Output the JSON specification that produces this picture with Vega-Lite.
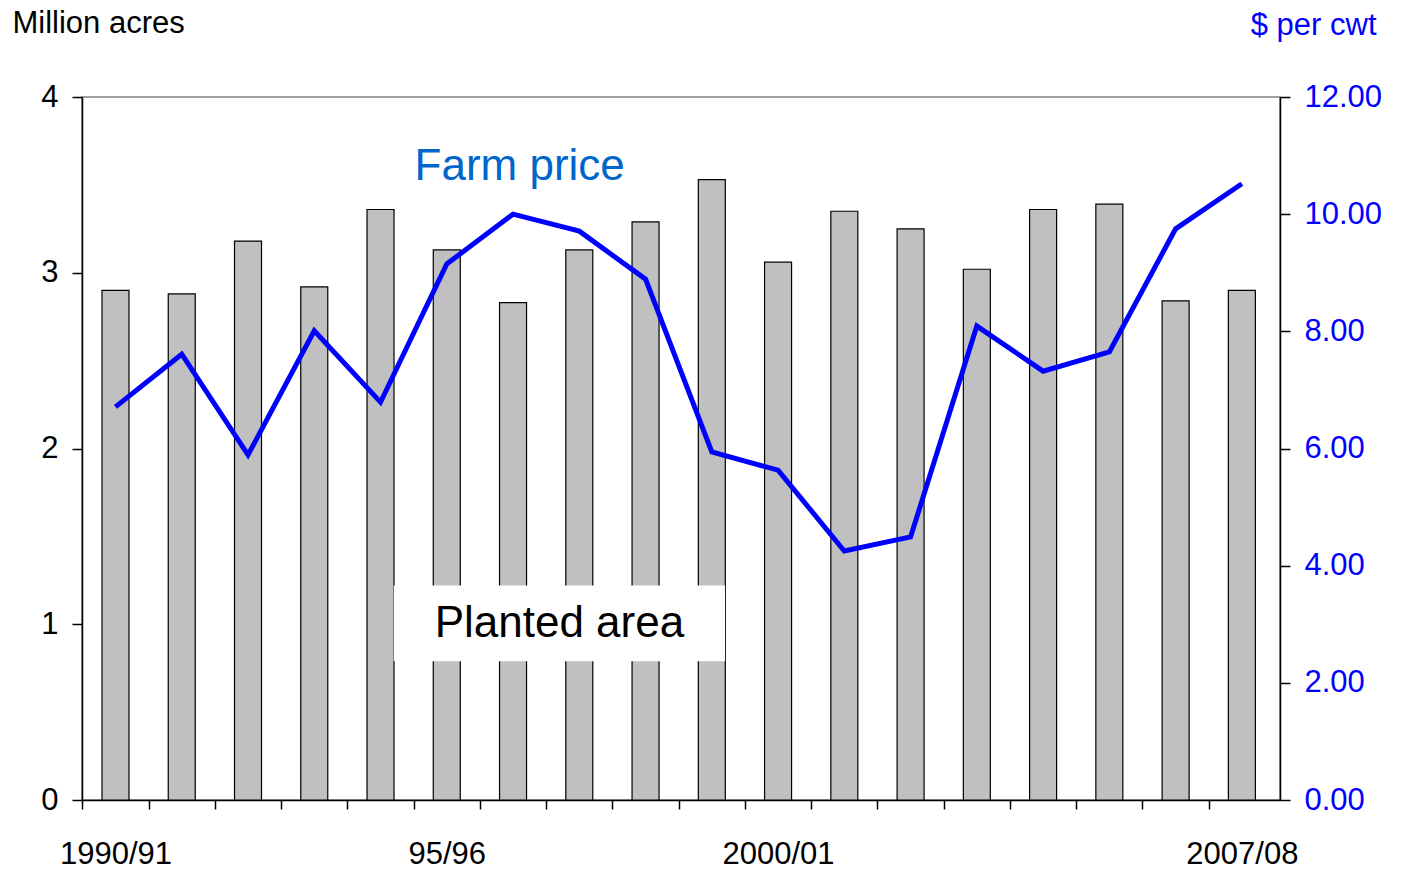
{
  "$schema": "https://vega.github.io/schema/vega-lite/v6.json",
  "width": 1198,
  "height": 703,
  "autosize": "none",
  "padding": {"left": 82, "top": 97, "right": 133, "bottom": 71},
  "background": "white",
  "config": {
    "font": "Liberation Sans",
    "view": {"stroke": "#808080", "strokeWidth": 1.5},
    "axis": {"grid": false, "labelFontSize": 31, "domainColor": "black", "tickColor": "black", "domainWidth": 1.5, "tickWidth": 1.5}
  },
  "data": {
    "values": [
      {"year": 1990, "area": 2.90, "price": 6.71},
      {"year": 1991, "area": 2.88, "price": 7.61},
      {"year": 1992, "area": 3.18, "price": 5.89},
      {"year": 1993, "area": 2.92, "price": 8.01},
      {"year": 1994, "area": 3.36, "price": 6.79},
      {"year": 1995, "area": 3.13, "price": 9.15},
      {"year": 1996, "area": 2.83, "price": 10.0},
      {"year": 1997, "area": 3.13, "price": 9.71},
      {"year": 1998, "area": 3.29, "price": 8.89},
      {"year": 1999, "area": 3.53, "price": 5.94},
      {"year": 2000, "area": 3.06, "price": 5.63},
      {"year": 2001, "area": 3.35, "price": 4.25},
      {"year": 2002, "area": 3.25, "price": 4.49},
      {"year": 2003, "area": 3.02, "price": 8.09},
      {"year": 2004, "area": 3.36, "price": 7.32},
      {"year": 2005, "area": 3.39, "price": 7.65},
      {"year": 2006, "area": 2.84, "price": 9.75},
      {"year": 2007, "area": 2.90, "price": 10.52}
    ]
  },
  "layer": [
    {
      "layer": [
        {
          "mark": {"type": "bar", "width": 27, "color": "#c0c0c0", "stroke": "black", "strokeWidth": 1.2},
          "encoding": {
            "x": {"field": "year", "type": "quantitative", "scale": {"domain": [1989.57, 2007.5], "nice": false, "zero": false},
              "axis": {"values": [1990, 1991, 1992, 1993, 1994, 1995, 1996, 1997, 1998, 1999, 2000, 2001, 2002, 2003, 2004, 2005, 2006, 2007],
                "tickOffset": -33.2, "labelOffset": 33.2, "tickSize": 9, "labelPadding": 30, "title": null,
                "labelExpr": "datum.value == 1990 ? '1990/91' : datum.value == 1995 ? '95/96' : datum.value == 2000 ? '2000/01' : datum.value == 2007 ? '2007/08' : ''"}},
            "y": {"field": "area", "type": "quantitative", "scale": {"domain": [0, 4]},
              "axis": {"values": [0, 1, 2, 3, 4], "format": "d", "tickSize": 10, "labelPadding": 14, "title": "Million acres", "titleFontSize": 31, "titleFontWeight": "normal", "titleAngle": 0, "titleAlign": "left", "titleX": -70, "titleY": -58}}
          }
        },
        {
          "data": {"values": [{"x1": 1994.2, "x2": 1999.2, "y1": 0.79, "y2": 1.22}]},
          "mark": {"type": "rect", "color": "white"},
          "encoding": {
            "x": {"field": "x1", "type": "quantitative"},
            "x2": {"field": "x2"},
            "y": {"field": "y1", "type": "quantitative"},
            "y2": {"field": "y2"}
          }
        },
        {
          "data": {"values": [{"x": 1996.7, "y": 1.0, "t": "Planted area", "c": "black"}, {"x": 1996.1, "y": 3.6, "t": "Farm price", "c": "#0066cc"}]},
          "mark": {"type": "text", "fontSize": 44},
          "encoding": {
            "x": {"field": "x", "type": "quantitative"},
            "y": {"field": "y", "type": "quantitative"},
            "text": {"field": "t"},
            "color": {"field": "c", "type": "nominal", "scale": null}
          }
        }
      ]
    },
    {
      "mark": {"type": "line", "color": "#0000ff", "strokeWidth": 5},
      "encoding": {
        "x": {"field": "year", "type": "quantitative"},
        "y": {"field": "price", "type": "quantitative", "scale": {"domain": [0, 12]},
          "axis": {"orient": "right", "values": [0, 2, 4, 6, 8, 10, 12], "format": ".2f", "labelColor": "#0000ff", "tickSize": 10, "labelPadding": 14,
            "title": "$ per cwt", "titleColor": "#0000ff", "titleFontSize": 31, "titleFontWeight": "normal", "titleAngle": 0, "titleAlign": "right", "titleX": 96, "titleY": -56}}
      }
    }
  ],
  "resolve": {"scale": {"y": "independent"}}
}
